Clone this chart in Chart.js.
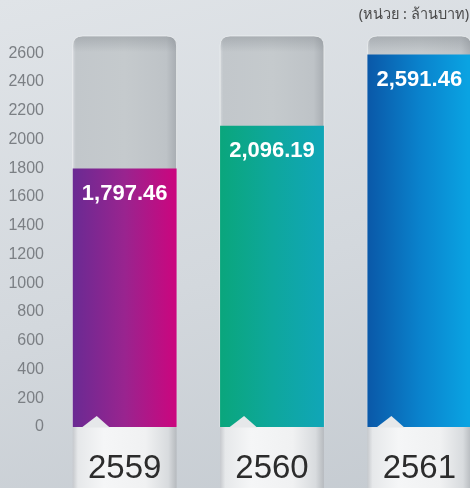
<!DOCTYPE html>
<html>
<head>
<meta charset="utf-8">
<script src="https://cdn.jsdelivr.net/npm/chart.js@4"></script>
<style>
  html, body { margin: 0; padding: 0; overflow: hidden; }
  body {
    width: 470px; height: 488px;
    background: linear-gradient(165deg, #e0e4e8 0%, #d3d8dd 55%, #c5cbd1 100%);
  }
  #wrap { position: relative; width: 493px; height: 488px; }
</style>
</head>
<body>
<div id="wrap"><canvas id="barChart"></canvas></div>
<script>
/* ข้อมูล */
var years = ['2559', '2560', '2561'];
var revenue = [1797.46, 2096.19, 2591.46];
var revenueText = ['1,797.46', '2,096.19', '2,591.46'];
var yTicks = [0, 200, 400, 600, 800, 1000, 1200, 1400, 1600, 1800, 2000, 2200, 2400, 2600];
var unitText = '(หน่วย : ล้านบาท)';

var barStops = [
  ['#6a2a93', '#99248f', '#c9077f'],
  ['#0aa67c', '#0ea79c', '#10a6b6'],
  ['#0a58a8', '#0a82cc', '#0aa3e2']
];

function barLeftRight(chart, i) {
  var x = chart.scales.x;
  var w = (x.width / years.length) * 0.705;
  var c = x.getPixelForTick(i);
  return [c - w / 2, c + w / 2];
}

/* tubos grises, base blanca, flecha y textos */
var tubes = {
  id: 'tubes',
  beforeDraw: function (chart) {
    var ctx = chart.ctx;
    var area = chart.chartArea;
    var zero = chart.scales.y.getPixelForValue(0);
    years.forEach(function (y, i) {
      var lr = barLeftRight(chart, i);
      var l = lr[0], r = lr[1], r0 = 10;
      // tubo
      var g = ctx.createLinearGradient(l, 0, r, 0);
      g.addColorStop(0, '#d3d7db');
      g.addColorStop(0.03, '#c2c7cb');
      g.addColorStop(0.5, '#c5cacd');
      g.addColorStop(0.9, '#bec3c7');
      g.addColorStop(1, '#a8adb2');
      ctx.save();
      ctx.beginPath();
      ctx.moveTo(l, zero);
      ctx.lineTo(l, area.top + r0);
      ctx.quadraticCurveTo(l, area.top, l + r0, area.top);
      ctx.lineTo(r - r0, area.top);
      ctx.quadraticCurveTo(r, area.top, r, area.top + r0);
      ctx.lineTo(r, zero);
      ctx.closePath();
      ctx.fillStyle = g;
      ctx.fill();
      var v = ctx.createLinearGradient(0, area.top, 0, area.top + 16);
      v.addColorStop(0, 'rgba(120,126,132,0.35)');
      v.addColorStop(1, 'rgba(120,126,132,0)');
      ctx.fillStyle = v;
      ctx.fill();
      ctx.strokeStyle = 'rgba(240,242,244,0.7)';
      ctx.lineWidth = 1;
      ctx.stroke();
      // base
      var b = ctx.createLinearGradient(l, 0, r, 0);
      b.addColorStop(0, '#c6c9cd');
      b.addColorStop(0.05, '#e6e8ea');
      b.addColorStop(0.3, '#f5f6f7');
      b.addColorStop(0.7, '#f0f1f2');
      b.addColorStop(0.92, '#d8dbde');
      b.addColorStop(1, '#b6babe');
      ctx.fillStyle = b;
      ctx.fillRect(l, zero, r - l, chart.height - zero);
      ctx.restore();
    });
  },
  afterDatasetsDraw: function (chart) {
    var ctx = chart.ctx;
    var meta = chart.getDatasetMeta(0);
    var zero = chart.scales.y.getPixelForValue(0);
    ctx.save();
    meta.data.forEach(function (bar, i) {
      var l = bar.x - bar.width / 2;
      // flecha
      ctx.beginPath();
      ctx.moveTo(l + 9, zero + 0.5);
      ctx.lineTo(l + 24, zero - 11);
      ctx.lineTo(l + 37, zero + 0.5);
      ctx.closePath();
      ctx.fillStyle = '#e6e8ea';
      ctx.fill();
      // valor
      ctx.fillStyle = '#ffffff';
      ctx.font = 'bold 22px "Liberation Sans", Arial, sans-serif';
      ctx.textAlign = 'center';
      ctx.textBaseline = 'middle';
      ctx.fillText(revenueText[i], bar.x, bar.y + 25);
    });
    ctx.fillStyle = '#4a4a4a';
    ctx.font = '14.5px "Noto Sans", "DejaVu Sans", sans-serif';
    ctx.textAlign = 'right';
    ctx.textBaseline = 'middle';
    ctx.fillText(unitText, 469, 15);
    ctx.restore();
  }
};

var barChart = new Chart(document.getElementById('barChart'), {
  type: 'bar',
  data: {
    labels: years,
    datasets: [{
      label: 'รายได้',
      data: revenue,
      backgroundColor: function (context) {
        var chart = context.chart;
        if (!chart.chartArea) return barStops[context.dataIndex][1];
        var lr = barLeftRight(chart, context.dataIndex);
        var s = barStops[context.dataIndex];
        var g = chart.ctx.createLinearGradient(lr[0], 0, lr[1], 0);
        g.addColorStop(0, s[0]);
        g.addColorStop(0.5, s[1]);
        g.addColorStop(0.97, s[2]);
        g.addColorStop(1, s[2]);
        return g;
      },
      borderWidth: 0,
      barPercentage: 0.705,
      categoryPercentage: 1
    }]
  },
  options: {
    responsive: true,
    maintainAspectRatio: false,
    animation: false,
    layout: {
      padding: { left: 8, top: 36, right: 0, bottom: 0 }
    },
    scales: {
      x: {
        grid: { display: false, drawTicks: false },
        border: { display: false },
        afterFit: function (axis) { axis.height = 61; },
        ticks: {
          color: '#2c2c2c',
          padding: 25,
          font: { family: '"Liberation Sans", Arial, sans-serif', size: 33, lineHeight: 1 }
        }
      },
      y: {
        min: 0,
        max: 2720,
        grid: { display: false, drawTicks: false },
        border: { display: false },
        afterFit: function (axis) { axis.width = 43; },
        afterBuildTicks: function (axis) {
          axis.ticks = yTicks.map(function (v) { return { value: v }; });
        },
        ticks: {
          color: '#7b7f84',
          padding: 7,
          callback: function (value) { return String(value); },
          font: { family: '"Liberation Sans", Arial, sans-serif', size: 16 }
        }
      }
    },
    plugins: {
      legend: { display: false },
      tooltip: { enabled: false }
    }
  },
  plugins: [tubes]
});
</script>
</body>
</html>
